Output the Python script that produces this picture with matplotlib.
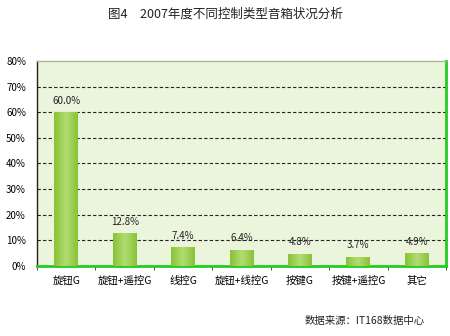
import matplotlib
matplotlib.use("Agg")
import matplotlib.pyplot as plt
import numpy as np
from matplotlib.colors import LinearSegmentedColormap

plt.rcParams['font.family'] = ['Noto Sans CJK SC', 'DejaVu Sans']

categories = ['旋钮G', '旋钮+遥控G', '线控G', '旋钮+线控G', '按键G', '按键+遥控G', '其它']
values = [60.0, 12.8, 7.4, 6.4, 4.8, 3.7, 4.9]
value_labels = ['60.0%', '12.8%', '7.4%', '6.4%', '4.8%', '3.7%', '4.9%']
yticks = [0, 10, 20, 30, 40, 50, 60, 70, 80]
ytick_labels = ['0%', '10%', '20%', '30%', '40%', '50%', '60%', '70%', '80%']
title = '图4　2007年度不同控制类型音箱状况分析'
source = '数据来源：IT168数据中心'

fig = plt.figure(figsize=(4.5, 3.36), dpi=100)
fig.patch.set_facecolor('white')
ax = fig.add_axes([37/450, 1-266/336, (446-37)/450, (266-61)/336])
ax.set_facecolor('#ebf5dc')

x = np.arange(len(categories))
bars = ax.bar(x, values, width=0.41, color='#9ccc4e', edgecolor='none', zorder=3)

# cylinder-like gradient on bars
grad = np.linspace(0, 1, 64)
cmap = LinearSegmentedColormap.from_list('g', ['#88c236', '#b2dc72', '#88c236'])
for b in bars:
    bx, by = b.get_x(), b.get_y()
    w, h = b.get_width(), b.get_height()
    im = ax.imshow(np.vstack([grad, grad]), extent=[bx, bx + w, by, by + h],
                   aspect='auto', cmap=cmap, zorder=3.5, origin='lower')
    im.set_clip_path(b)

ax.set_xlim(-0.5, len(categories) - 0.5)
ax.set_ylim(0, 80)
ax.set_yticks(yticks)
ax.set_yticklabels(ytick_labels, fontsize=7)
ax.set_xticks(x)
ax.set_xticklabels(categories, fontsize=7.5)
ax.tick_params(axis='x', length=0, pad=7)
ax.tick_params(axis='y', length=0, pad=8)
ax.set_xticks(np.arange(len(categories) + 1) - 0.5, minor=True)
ax.tick_params(axis='x', which='minor', length=3, color='#333333', direction='out')

for yv in yticks[1:-1]:
    ax.axhline(yv, color='#222222', linestyle=(0, (3, 2)), linewidth=0.8, zorder=2)

for xi, v, lab in zip(x, values, value_labels):
    ax.text(xi, v + 2.5, lab, ha='center', va='bottom', fontsize=7, color='#222222', zorder=4)

ax.spines['left'].set_color('#222222')
ax.spines['left'].set_linewidth(1)
ax.spines['top'].set_color('#aab89a')
ax.spines['top'].set_linewidth(1)
ax.spines['right'].set_color('#22cc22')
ax.spines['right'].set_linewidth(2)
ax.spines['bottom'].set_color('#22cc22')
ax.spines['bottom'].set_linewidth(2)

fig.text(0.5, 1 - 14/336, title, ha='center', va='center', fontsize=9, color='#222222')
fig.text(425/450, 1 - 321/336, source, ha='right', va='center', fontsize=7.5, color='#222222')

fig.savefig('out.png', dpi=100)
